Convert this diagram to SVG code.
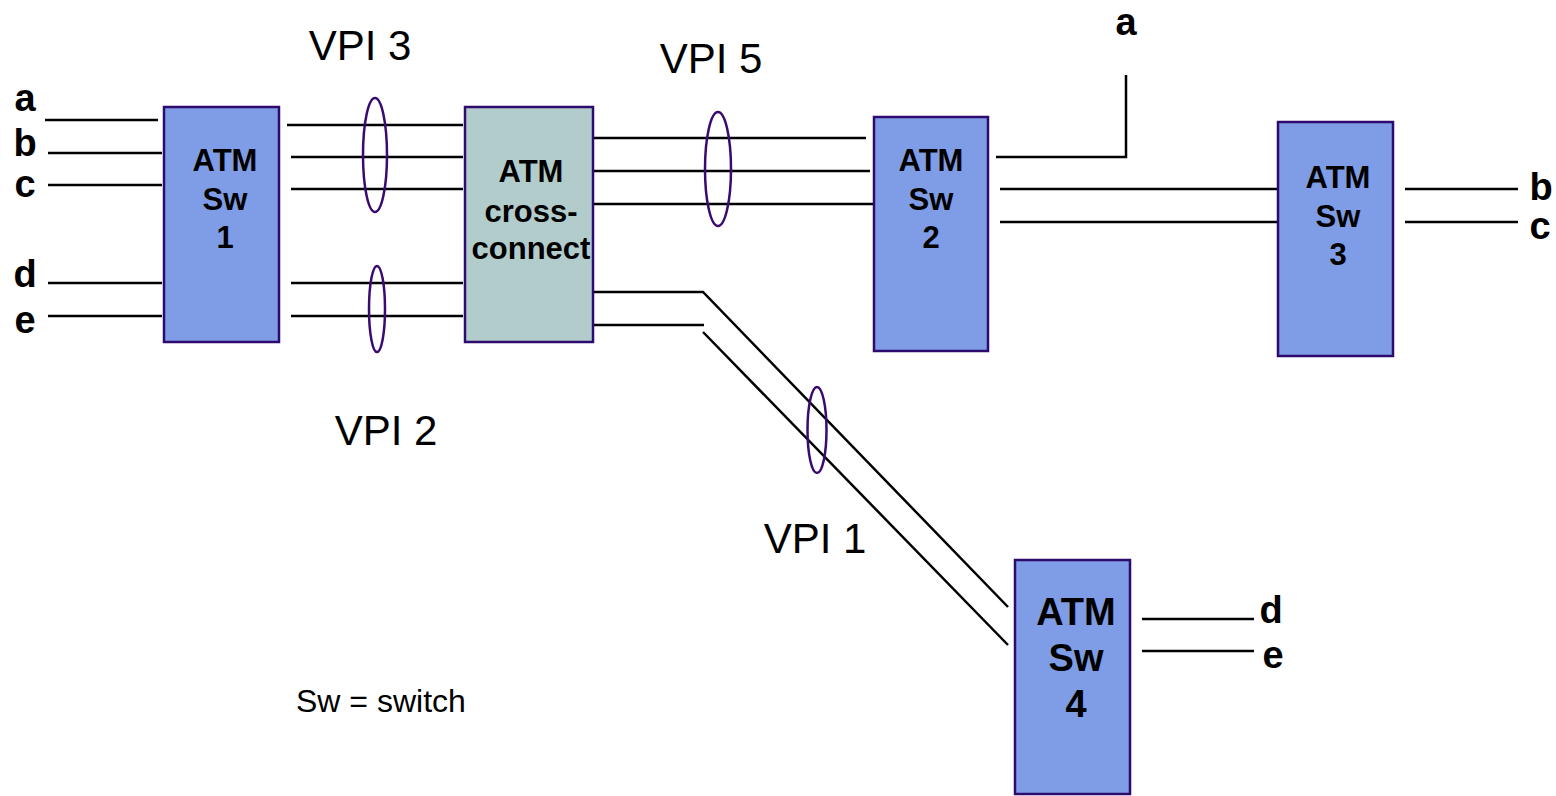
<svg xmlns="http://www.w3.org/2000/svg" width="1556" height="796" viewBox="0 0 1556 796">
<style>
.sw{fill:#7f9de6;stroke:#2e0a6e;stroke-width:2.5}
.xc{fill:#b2cccc;stroke:#2e0a6e;stroke-width:2.5}
.ln{stroke:#000;stroke-width:2.5;fill:none}
.el{fill:none;stroke:#3a0a70;stroke-width:2.5}
.bt{font-family:"Liberation Sans",Arial,sans-serif;font-weight:bold;fill:#000;text-anchor:middle}
.lb{font-family:"Liberation Sans",Arial,sans-serif;font-weight:bold;font-size:38px;fill:#000;text-anchor:middle}
.vp{font-family:"Liberation Sans",Arial,sans-serif;font-size:42px;fill:#000;text-anchor:middle}
</style>
<g id="connectors">
<line class="ln" x1="45" y1="120" x2="158" y2="120"/>
<line class="ln" x1="48" y1="153" x2="162" y2="153"/>
<line class="ln" x1="48" y1="185" x2="162" y2="185"/>
<line class="ln" x1="48" y1="283" x2="162" y2="283"/>
<line class="ln" x1="48" y1="316" x2="162" y2="316"/>
<line class="ln" x1="287" y1="125" x2="463" y2="125"/>
<line class="ln" x1="291" y1="157" x2="463" y2="157"/>
<line class="ln" x1="291" y1="189" x2="463" y2="189"/>
<line class="ln" x1="291" y1="283" x2="463" y2="283"/>
<line class="ln" x1="291" y1="316" x2="463" y2="316"/>
<line class="ln" x1="587" y1="138" x2="866" y2="138"/>
<line class="ln" x1="593" y1="171" x2="870" y2="171"/>
<line class="ln" x1="593" y1="204" x2="874" y2="204"/>
<polyline class="ln" points="593,292 703,292 1008,607"/>
<line class="ln" x1="593" y1="325" x2="704" y2="325"/>
<line class="ln" x1="703" y1="332" x2="1008" y2="645"/>
<polyline class="ln" points="996,157 1126,157 1126,75"/>
<line class="ln" x1="1000" y1="189" x2="1283" y2="189"/>
<line class="ln" x1="1000" y1="222" x2="1285" y2="222"/>
<line class="ln" x1="1405" y1="189" x2="1518" y2="189"/>
<line class="ln" x1="1405" y1="222" x2="1518" y2="222"/>
<line class="ln" x1="1142" y1="619" x2="1254" y2="619"/>
<line class="ln" x1="1142" y1="651" x2="1254" y2="651"/>
<ellipse class="el" cx="375" cy="155" rx="12" ry="57"/>
<ellipse class="el" cx="377" cy="309" rx="8" ry="43"/>
<ellipse class="el" cx="718" cy="169" rx="13" ry="57"/>
<ellipse class="el" cx="817" cy="430" rx="9.5" ry="43"/>
</g>
<g id="sw1">
<rect class="sw" x="164" y="107" width="115" height="235"/>
<text class="bt" font-size="31" x="225" y="171">ATM</text>
<text class="bt" font-size="31" x="225" y="210">Sw</text>
<text class="bt" font-size="31" x="225" y="248">1</text>
</g>
<g id="xc">
<rect class="xc" x="465" y="107" width="128" height="235"/>
<text class="bt" font-size="31" x="531" y="182">ATM</text>
<text class="bt" font-size="31" x="531" y="222">cross-</text>
<text class="bt" font-size="31" x="531" y="259">connect</text>
</g>
<g id="sw2">
<rect class="sw" x="874" y="117" width="114" height="234"/>
<text class="bt" font-size="31" x="931" y="171">ATM</text>
<text class="bt" font-size="31" x="931" y="210">Sw</text>
<text class="bt" font-size="31" x="931" y="248">2</text>
</g>
<g id="sw3">
<rect class="sw" x="1278" y="122" width="115" height="234"/>
<text class="bt" font-size="31" x="1338" y="188">ATM</text>
<text class="bt" font-size="31" x="1338" y="227">Sw</text>
<text class="bt" font-size="31" x="1338" y="265">3</text>
</g>
<g id="sw4">
<rect class="sw" x="1015" y="560" width="115" height="234"/>
<text class="bt" font-size="38" x="1076" y="625">ATM</text>
<text class="bt" font-size="38" x="1076" y="671">Sw</text>
<text class="bt" font-size="38" x="1076" y="717">4</text>
</g>
<g id="labels">
<text class="lb" x="25" y="111">a</text>
<text class="lb" x="25" y="156">b</text>
<text class="lb" x="25" y="197">c</text>
<text class="lb" x="25" y="287">d</text>
<text class="lb" x="25" y="333">e</text>
<text class="lb" x="1126" y="35">a</text>
<text class="lb" font-size="36" x="1541" y="200">b</text>
<text class="lb" font-size="36" x="1540" y="239">c</text>
<text class="lb" x="1271" y="623">d</text>
<text class="lb" x="1273" y="668">e</text>
<text class="vp" x="360" y="60">VPI 3</text>
<text class="vp" x="711" y="73">VPI 5</text>
<text class="vp" x="386" y="445">VPI 2</text>
<text class="vp" x="815" y="553">VPI 1</text>
<text font-family="Liberation Sans,Arial,sans-serif" font-size="32" x="296" y="712">Sw = switch</text>
</g>
</svg>
